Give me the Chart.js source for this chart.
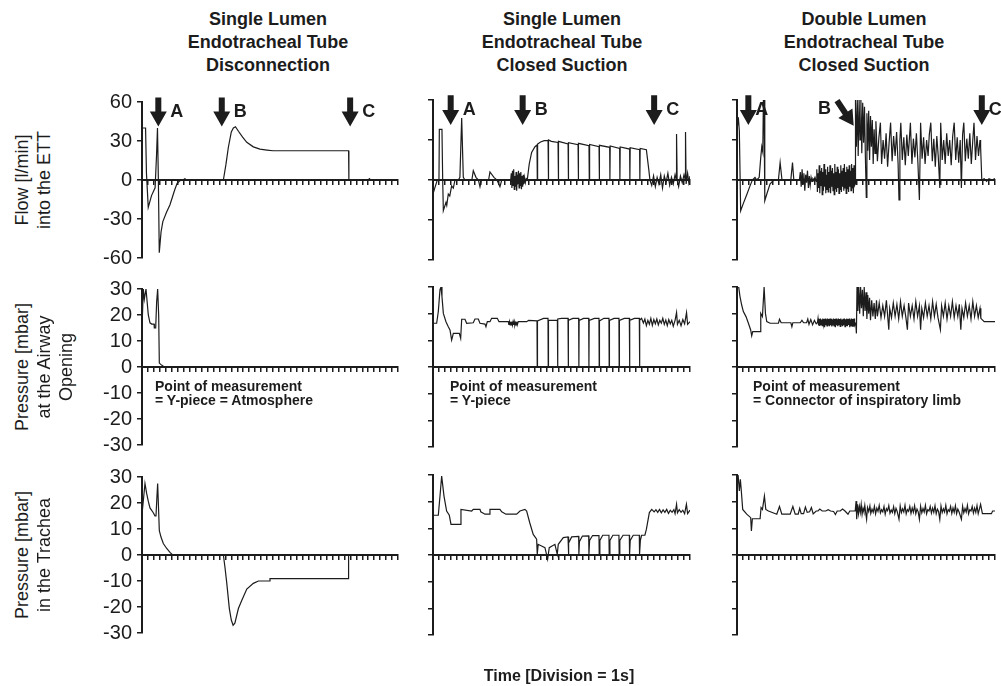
<!DOCTYPE html>
<html>
<head>
<meta charset="utf-8">
<script src="https://cdn.jsdelivr.net/npm/chart.js@4/dist/chart.umd.min.js"></script>
<style>
  body { margin: 0; background: #fff; width: 1001px; height: 686px; position: relative; overflow: hidden;
         font-family: "Liberation Sans", Arial, sans-serif; color: #1c1c1c; }
  canvas { position: absolute; }
  .title { position: absolute; width: 300px; text-align: center; font-weight: bold; font-size: 18px; line-height: 23px; }
  .ylab { position: absolute; white-space: nowrap; font-size: 18px; transform: translate(-50%, -50%) rotate(-90deg); }
  .note { position: absolute; white-space: nowrap; font-weight: bold; font-size: 14px; line-height: 14px; }
  .xlab { position: absolute; white-space: nowrap; font-weight: bold; font-size: 16px; transform: translate(-50%, -50%); }
</style>
</head>
<body>
<script>
// ---- text ----
const columnTitles = [
  ['Single Lumen', 'Endotracheal Tube', 'Disconnection'],
  ['Single Lumen', 'Endotracheal Tube', 'Closed Suction'],
  ['Double Lumen', 'Endotracheal Tube', 'Closed Suction']
];
const rowTitles = [
  ['Flow [l/min]', 'into the ETT'],
  ['Pressure [mbar]', 'at the Airway', 'Opening'],
  ['Pressure [mbar]', 'in the Trachea']
];
const measurementNotes = [
  ['Point of measurement', '= Y-piece = Atmosphere'],
  ['Point of measurement', '= Y-piece'],
  ['Point of measurement', '= Connector of inspiratory limb']
];
const timeLabel = 'Time [Division = 1s]';

// ---- axes ----
const timeSpan = [0, 43];          // seconds, one tick per second
const flowRange = [-60, 60];
const flowStep = 30;
const pressureRange = [-30, 30];
const pressureStep = 10;

// ---- events: [label, t start, value start, t tip, value tip] ----
const eventsDisc = [['A', 2.74, 63.5, 2.74, 41.2], ['B', 13.4, 63.5, 13.4, 41.2], ['C', 34.96, 63.5, 34.96, 41.2]];
const eventsSL = [['A', 2.96, 63.5, 2.96, 41.2], ['B', 15.0, 63.5, 15.0, 41.2], ['C', 37.0, 63.5, 37.0, 41.2]];
const eventsDL = [['A', 1.89, 63.5, 1.89, 41.2], ['B', 16.67, 59.5, 19.45, 40.7], ['C', 40.8, 63.5, 40.8, 41.2]];

// ---- traces: [t (s), value] ----
const flowDisc = [[0,0],[0.05,40],[0.6,40],[0.75,5],[1.05,-21],[1.6,-12],[2.2,-6],[2.45,20],[2.6,40],[2.75,0],[2.9,-56],
  [3.2,-40],[3.5,-32],[4.1,-25],[4.7,-19],[5.5,-7.5],[5.9,-2.5],[6.4,-0.5],[6.9,0],[7.2,1],[7.5,0],[13.67,0],[14.1,12],
  [14.5,25],[15.0,37],[15.35,40],[15.7,41],[16.2,37.5],[16.9,33],[17.6,29],[18.7,25.5],[19.8,23.7],[21,23],[22,22.5],
  [34.7,22.5],[34.75,0],[38.0,0],[38.2,1],[38.4,0],[43,0]];

const pawDisc = [[0,15],[0.11,15],[0.22,30],[0.39,26],[0.67,30],[1.06,20],[1.34,17],[1.63,16.5],[2.02,16.5],[2.07,15],
  [2.3,15],[2.46,25],[2.63,30],[2.8,20],[2.91,1.5],[3.14,1],[3.47,0.5],[3.7,0],[43,0]];

const ptrDisc = [[0,15.6],[0.11,15.6],[0.5,27.5],[0.78,23.7],[1.06,20.6],[1.34,18.1],[1.9,16.25],[2.18,15],[2.35,15],
  [2.5,22],[2.63,27.5],[2.91,9.4],[3.19,6.9],[3.58,4.4],[4.15,2.5],[4.7,1],[5.15,0],[13.67,0],[13.95,-5],[14.23,-10.6],
  [14.67,-20.6],[15.0,-25],[15.3,-27],[15.6,-26.2],[16.19,-20.6],[16.75,-17.5],[17.6,-13.1],[18.7,-10.9],[19.55,-10],
  [21.5,-10],[21.5,-9.1],[34.67,-9.1],[34.7,0],[43,0]];

const flowSL = [[0,-10.5],[0.33,-5.5],[0.72,0],[1.0,0],[1.06,38],[1.5,38],[1.62,0],[1.73,-23],[2.17,-16.8],[2.3,-19],
  [2.56,-10.5],[2.8,-12],[3.12,-4.4],[3.4,-6],[3.68,0],[4.24,0],[4.5,2],[4.8,46.5],[5.07,2],[5.35,0],[6.5,0],[6.74,7],
  [7.19,2],[7.6,0],[7.86,-5],[8.1,0],[9.3,0],[9.53,6],[10.2,2],[10.7,0],[11.2,-5],[11.5,0],[13.0,0],
  [13.1,5],[13.2,-6],[13.3,7],[13.4,-4],[13.5,8],[13.6,-7],[13.7,3],[13.8,-5],[13.9,6],[14.0,-8],[14.1,4],[14.2,-3],
  [14.3,7],[14.4,-6],[14.5,5],[14.6,-4],[14.7,6],[14.8,-7],[14.9,3],[15.0,-5],[15.1,4],[15.2,-3],[15.3,2],[15.45,-2],
  [15.6,1],[15.77,0],[16.1,12],[16.5,20.7],[17.06,25],[17.4,26.2],[17.45,0],[17.5,27],[18.0,28.5],[18.6,29.5],
  [19.25,29.5],[19.3,0],[19.35,30],[19.8,29],[20.92,28.2],[20.97,0],[21.02,29],[22.6,27],[22.64,0],[22.69,28],
  [24.27,26.5],[24.31,0],[24.36,27.5],[26.1,25.7],[26.15,0],[26.2,26.7],[27.78,25],[27.82,0],[27.87,26],[29.56,24.5],
  [29.6,0],[29.65,25.5],[31.23,23.7],[31.27,0],[31.32,24.8],[32.9,23.2],[32.94,0],[32.99,24.2],[34.57,22.7],[34.61,0],
  [34.66,23.7],[35.7,22.7],[36.1,8],[36.3,0],[36.6,-4],[36.9,3],[37.2,-5],[37.5,2],[37.8,-3],[38.1,4],[38.4,-6],
  [38.7,3],[39,-2],[39.3,5],[39.6,-4],[39.9,2],[40.2,-3],[40.5,4],[40.7,0],[40.75,34.5],[40.85,0],[41.1,-5],[41.4,3],
  [41.7,-2],[42,4],[42.2,0],[42.25,36],[42.35,-3],[42.6,5],[42.8,-2],[43,3]];

const pawSL = [[0,16.4],[0.61,16.4],[0.89,20.8],[1.17,29],[1.34,30],[1.5,26.4],[1.73,20.1],[2.17,17],[2.56,15.1],
  [2.84,13.9],[3.12,10.1],[3.4,12.6],[4.4,12.6],[4.63,10.75],[4.8,17.9],[5.35,17.9],[5.63,16.4],[6.74,16.6],[7.02,18],
  [7.58,18],[7.86,16.4],[8.7,16.1],[8.86,15.1],[9.09,17],[9.53,17],[9.81,18.25],[10.76,18.25],[11.04,17],[12.6,17],
  [12.7,15.75],[12.8,17],[12.9,15.75],[13.0,17],[13.1,15.75],[13.2,17],[13.3,15.75],[13.4,17],[13.5,15.75],[13.6,17],
  [13.7,15.75],[13.8,16.6],[13.9,15.75],[14.0,17],[14.1,15.75],[14.27,17],[15.67,17],[16.0,17.5],[17.4,17.3],
  [17.44,0],[17.48,17.3],[18.5,18.2],[19.24,18.2],[19.28,0],[19.32,17.5],[20.0,17.5],[20.81,17.5],[20.85,0],[20.89,18],
  [21.5,18.2],[22.59,18.2],[22.63,0],[22.67,17.5],[23.4,18.2],[24.37,18.2],[24.41,0],[24.45,17.5],[25.2,18.25],
  [26.05,18.25],[26.09,0],[26.13,17.5],[27,18.25],[27.77,18.25],[27.81,0],[27.85,17.3],[28.6,18.25],[29.44,18.25],
  [29.48,0],[29.52,17.5],[30.3,18.25],[31.11,18.25],[31.15,0],[31.19,17.5],[32,18.25],[32.85,18.25],[32.89,0],
  [32.93,17.5],[33.7,18.25],[34.52,18.25],[34.56,0],[34.6,17.5],[34.9,18.25],[35.2,16.5],[35.45,18],[35.7,15.5],
  [35.95,17.5],[36.2,16],[36.45,18.25],[36.7,15.6],[36.95,17.8],[37.2,16.2],[37.45,18],[37.7,15.8],[37.95,17.5],
  [38.2,16.4],[38.45,18.25],[38.7,16],[38.95,17.6],[39.2,15.5],[39.45,17.8],[39.7,16.2],[39.95,17.5],[40.2,15.3],
  [40.5,17.5],[40.75,20.4],[40.9,16],[41.2,17.5],[41.5,15.5],[41.8,17.8],[42.1,16.2],[42.42,20.4],[42.6,16],[43,17]];

const ptrSL = [[0,14.9],[0.89,14.9],[1.17,22.1],[1.45,29.6],[1.84,22.1],[2.28,16.5],[2.73,14.9],[3.01,11.5],[4.52,11.5],
  [4.68,17.1],[6.47,16.5],[6.74,17.1],[7.86,17.1],[7.99,16.2],[8.7,15.3],[9.4,15.3],[9.53,17.1],[11.2,17.1],[11.5,16.2],
  [12.2,15.3],[14.0,15.3],[14.55,16.5],[15.38,17.1],[15.67,16.5],[16.2,12],[16.77,7.7],[17.34,5.9],[17.44,0.25],
  [17.6,4],[18.73,2.75],[19.18,-1.6],[19.45,2.75],[20.4,4],[20.79,0.25],[20.96,4],[21.8,6.5],[22.59,6.8],[22.63,0.25],
  [22.75,4.5],[23.2,6.8],[24.37,7],[24.41,0.25],[24.5,5],[25.0,7.1],[26.05,7.2],[26.09,0.25],[26.2,5.5],[26.7,7.3],
  [27.77,7.3],[27.81,0.25],[27.92,5.5],[28.4,7.4],[29.44,7.4],[29.48,0.25],[29.6,5.5],[30.1,7.4],[31.11,7.4],
  [31.15,0.25],[31.26,5.5],[31.8,7.4],[32.85,7.4],[32.89,0.25],[33,5.5],[33.5,7.4],[34.52,7.4],[34.56,0.25],[34.7,5.5],
  [34.9,7.4],[35.45,7.4],[35.7,9.6],[36.2,15.9],[36.6,17.1],[37,16.2],[37.3,17],[37.6,16],[37.9,17.1],[38.2,15.8],
  [38.5,16.9],[38.8,16],[39.1,17.1],[39.4,15.6],[39.7,16.8],[40,16],[40.3,17],[40.5,15.5],[40.75,19],[40.9,15.8],
  [41.2,17],[41.5,16],[41.8,16.8],[42.1,15.5],[42.4,19],[42.6,15.5],[43,16.8]];

const flowDL = [[0,37],[0.05,37],[0.22,47],[0.39,37],[0.61,-23],[1.06,-17.5],[1.62,-11],[2.17,-4.4],[2.56,0],[3.0,2],
  [3.3,0],[3.7,2],[3.96,17],[4.13,25],[4.3,21],[4.4,60],[4.5,60],[4.63,-15.5],[4.97,-10.5],[5.5,-3],[6.1,0],[6.9,0],
  [7.19,13],[7.5,0],[8.97,0],[9.25,13],[9.47,0],[10.4,0],[10.55,6],[10.7,-5],[10.85,8],[11,-3],[11.15,5],[11.3,-8],
  [11.45,4],[11.6,-2],[11.75,7],[11.9,-6],[12.05,3],[12.2,-4],[12.35,2],[12.5,-1],[12.65,1],[12.8,0],[13.0,2],[13.2,-1],
  [13.3,8],[13.4,-9],[13.5,5],[13.6,-6],[13.7,11],[13.8,-10],[13.9,7],[14.0,-4],[14.1,9],[14.2,-11],[14.3,6],[14.4,-8],
  [14.5,12],[14.6,-5],[14.7,8],[14.8,-10],[14.9,4],[15.0,-7],[15.1,10],[15.2,-9],[15.3,6],[15.4,-6],[15.5,11],
  [15.6,-10],[15.7,7],[15.8,-5],[15.9,9],[16.0,-8],[16.1,5],[16.2,-11],[16.3,12],[16.4,-7],[16.5,6],[16.6,-9],[16.7,10],
  [16.8,-6],[16.9,8],[17.0,-10],[17.1,5],[17.2,-7],[17.3,11],[17.4,-9],[17.5,7],[17.6,-5],[17.7,9],[17.8,-8],[17.9,12],
  [18.0,-6],[18.1,6],[18.2,-10],[18.3,10],[18.4,-7],[18.5,8],[18.6,-9],[18.7,11],[18.8,-5],[18.9,7],[19.0,-8],[19.1,12],
  [19.2,-6],[19.3,9],[19.4,-10],[19.5,11],[19.6,-4],[19.7,-3],[19.75,60],[19.9,25],[20.05,60],[20.2,18],[20.35,60],
  [20.5,30],[20.65,60],[20.8,20],[20.95,58],[21.1,28],[21.25,55],[21.4,17],[21.55,-13],[21.65,50],[21.8,22],[21.95,52],
  [22.1,15],[22.25,48],[22.4,25],[22.55,45],[22.7,12],[22.85,38],[23,20],[23.15,44],[23.4,14],[23.65,32],[23.9,43],
  [24.1,12],[24.35,30],[24.6,16],[24.85,35],[25.1,10],[25.35,28],[25.6,43],[25.85,14],[26.1,33],[26.35,18],[26.6,36],
  [26.85,12],[27.0,-15],[27.15,30],[27.3,43],[27.55,15],[27.8,32],[28.05,11],[28.3,34],[28.55,18],[28.9,43],[29.15,12],
  [29.4,31],[29.65,17],[29.9,35],[30.15,13],[30.4,-15],[30.6,43],[30.85,16],[31.1,32],[31.35,12],[31.6,30],[31.85,18],
  [32.05,34],[32.3,43],[32.55,14],[32.8,31],[33.05,10],[33.3,33],[33.55,17],[33.8,-6],[33.95,43],[34.2,15],[34.45,30],
  [34.7,12],[34.95,35],[35.2,18],[35.45,30],[35.7,11],[35.95,33],[36.2,43],[36.45,15],[36.7,32],[36.95,13],[37.2,30],
  [37.4,-6],[37.6,34],[37.8,43],[38.05,14],[38.3,31],[38.55,16],[38.8,35],[39.05,12],[39.3,30],[39.5,43],[39.75,15],
  [40.0,33],[40.25,18],[40.5,30],[40.6,25],[40.8,0],[41.2,1],[41.6,-1],[42,1],[42.5,0],[43,1]];

const pawDL = [[0,30],[0.06,30],[0.28,30],[0.5,26.4],[0.78,23.25],[1.06,20.8],[1.5,18.9],[1.9,16.4],[2.28,13.9],
  [2.45,11.7],[2.62,13.3],[3.85,13.3],[3.96,20.1],[4.24,18.9],[4.52,30],[4.74,20.1],[4.96,17],[5.52,16.4],[6.91,16.4],
  [7.08,17.9],[7.36,16.6],[8.98,16.6],[9.15,15.1],[9.31,16.6],[10.54,16.6],[10.82,17.5],[11.1,16.6],[11.6,16.6],
  [11.8,18],[12.0,16],[12.3,17.8],[12.6,15.8],[12.9,17.5],[13.2,16.2],[13.4,16.6],[13.5,18.2],[13.6,15.6],[13.7,18],
  [13.8,15.4],[13.9,18.2],[14.0,15.9],[14.1,17.8],[14.2,15.5],[14.3,18.2],[14.4,16],[14.5,18],[14.6,14.9],[14.7,18.2],
  [14.8,15.7],[14.9,17.9],[15.0,15.4],[15.1,18.2],[15.2,15.8],[15.3,18],[15.4,15.3],[15.5,18.2],[15.6,15.7],
  [15.7,18.1],[15.8,15.2],[15.9,17.8],[16.0,15.8],[16.1,18.2],[16.2,15.4],[16.3,18],[16.4,14.9],[16.5,18.2],[16.6,15.7],
  [16.7,17.9],[16.8,15.3],[16.9,18.2],[17.0,15.9],[17.1,18],[17.2,15.2],[17.3,18.2],[17.4,15.6],[17.5,17.8],[17.6,15.3],
  [17.7,18.1],[17.8,15.7],[17.9,18.2],[18.0,15.1],[18.1,17.9],[18.2,15.6],[18.3,18.2],[18.4,15.3],[18.5,18],[18.6,15.8],
  [18.7,18.2],[18.8,14.9],[18.9,17.8],[19.0,15.5],[19.1,18.2],[19.2,15.3],[19.3,18],[19.4,15.1],[19.5,18.2],
  [19.6,15.6],[19.8,16.4],[19.9,12.6],[20.0,30],[20.15,21],[20.3,30],[20.45,20],[20.6,30],[20.75,22],[20.9,29],
  [21.05,19],[21.2,30],[21.35,21],[21.5,28],[21.65,18],[21.8,27],[21.95,20],[22.1,26],[22.25,17.5],[22.45,25],
  [22.65,19],[22.85,24],[23.05,18],[23.25,25],[23.4,19],[23.7,24],[24.0,18.5],[24.3,23],[24.6,19],[24.9,25],[25.15,18],
  [25.3,14],[25.45,22],[25.75,18.5],[26.05,24],[26.35,19],[26.65,23.5],[26.95,18],[27.25,24.5],[27.55,19],[27.85,23],
  [28.15,18.5],[28.4,14],[28.6,24],[28.9,19],[29.2,23],[29.5,18],[29.8,24.5],[30.1,19],[30.4,23],[30.6,14],[30.8,22],
  [31.1,18.5],[31.4,24],[31.7,19],[32.0,23],[32.3,18],[32.6,24.5],[32.9,19],[33.2,23.5],[33.5,18.5],[33.9,14],[34.1,23],
  [34.4,19],[34.7,24],[35.0,18],[35.3,23],[35.6,19],[35.9,24.5],[36.2,18.5],[36.5,23],[36.8,19],[37.05,23.5],[37.3,14],
  [37.5,22],[37.8,18.5],[38.1,24],[38.4,19],[38.7,23],[39.0,18],[39.3,24.5],[39.6,19],[39.9,23],[40.2,18.5],[40.5,22],
  [40.64,18.25],[41.2,17],[43,17]];

const ptrDL = [[0,25.9],[0.06,25.9],[0.22,29],[0.39,24],[0.56,28.4],[0.72,24],[0.95,17.1],[1.62,15.3],[2.28,14],[2.4,9],
  [2.56,13.6],[3.85,13.6],[4.01,17.8],[4.24,17.1],[4.57,22.1],[4.8,17.1],[5.24,16.5],[6.63,15.3],[7.08,18.2],[7.47,15.3],
  [8.86,15.3],[9.31,18.2],[9.7,15.3],[10.2,15.3],[10.45,17.5],[10.7,15.5],[11.1,15.5],[11.4,18],[11.7,16],[12.1,16.2],
  [12.4,17.8],[12.7,15.4],[13.2,16.5],[13.5,16.5],[13.8,17.2],[14.2,16.5],[14.8,16.5],[15.2,17],[15.6,16.5],[16.1,16.3],
  [16.4,15.2],[16.7,16.5],[17.2,16.5],[17.6,17.2],[18.0,16.5],[18.5,15.3],[18.8,16.5],[19.4,16.5],[19.7,16.5],
  [19.85,20.2],[19.95,13.4],[20.1,19],[20.25,15.5],[20.4,18.2],[20.55,16],[20.7,19],[20.85,15.3],[21.0,17.5],
  [21.15,16.2],[21.3,18.6],[21.45,15.8],[21.6,13.4],[21.75,17.8],[21.95,16.3],[22.15,18.4],[22.3,15.6],[22.5,17.2],
  [22.7,16],[22.9,18.3],[23.1,15.4],[23.3,17.6],[23.5,16.4],[23.7,18.6],[23.9,15.8],[24.1,17],[24.3,16.2],[24.5,18.2],
  [24.7,15.3],[24.9,17.4],[25.1,16.6],[25.3,18.5],[25.5,15.7],[25.7,16.9],[25.9,16],[26.1,18.1],[26.3,15.5],[26.5,17.5],
  [26.7,16.3],[27.0,13.4],[27.2,18.4],[27.4,15.9],[27.6,17.3],[27.8,16.1],[28.0,18.6],[28.2,15.4],[28.4,17],[28.6,16.4],
  [28.8,18.2],[29.0,15.6],[29.2,17.6],[29.4,16],[29.6,18.5],[29.8,15.5],[30.0,17.2],[30.2,16.2],[30.4,13.4],[30.6,18.3],
  [30.8,15.8],[31.0,17.4],[31.2,16.1],[31.4,18.6],[31.6,15.4],[31.8,17],[32.0,16.5],[32.2,18.2],[32.4,15.7],[32.6,17.6],
  [32.8,16],[33.0,18.5],[33.2,15.5],[33.4,17.2],[33.6,16.3],[33.8,13.4],[34.0,18.4],[34.2,15.9],[34.4,17.3],[34.6,16.1],
  [34.8,18.6],[35.0,15.4],[35.2,17],[35.4,16.4],[35.6,18.2],[35.8,15.6],[36.0,17.6],[36.2,16],[36.4,18.5],[36.6,15.5],
  [36.8,17.2],[37.0,16.2],[37.4,13.4],[37.6,18.3],[37.8,15.8],[38.0,17.4],[38.2,16.1],[38.4,18.6],[38.6,15.4],[38.8,17],
  [39.0,16.5],[39.2,18.2],[39.4,15.7],[39.6,17.6],[39.8,16],[40.0,18.5],[40.2,15.5],[40.4,17.2],[40.6,19],[40.9,15.5],
  [42.4,15.5],[42.6,16.5],[43,16.5]];

// ---- layout (pixels) ----
const colLeft = [142, 433, 737];
const colRight = [398, 690, 995];
const rowTop = [100, 287, 475];
const rowBottom = [260, 447, 635];
const YW = 50, PT = 15, PB = 15, PR = 15;
const ink = '#1c1c1c';
const fontFamily = '"Liberation Sans", Arial, sans-serif';

function arrowPluginFor(events, labelDx) {
  return {
    id: 'eventArrows',
    afterDraw(chart) {
      const ctx = chart.ctx, xs = chart.scales.x, ys = chart.scales.y;
      ctx.save();
      ctx.fillStyle = ink;
      events.forEach(ev => {
        const [label, t0, v0, t1, v1] = ev;
        const x0 = xs.getPixelForValue(t0), y0 = ys.getPixelForValue(v0);
        const x1 = xs.getPixelForValue(t1), y1 = ys.getPixelForValue(v1);
        const len = Math.hypot(x1 - x0, y1 - y0);
        const ux = (x1 - x0) / len, uy = (y1 - y0) / len;
        const nx = -uy, ny = ux;
        const head = 15, hw = 8.5, sw = 3;
        const bx = x1 - ux * head, by = y1 - uy * head;
        ctx.beginPath();
        ctx.moveTo(x0 + nx * sw, y0 + ny * sw);
        ctx.lineTo(bx + nx * sw, by + ny * sw);
        ctx.lineTo(bx + nx * hw, by + ny * hw);
        ctx.lineTo(x1, y1);
        ctx.lineTo(bx - nx * hw, by - ny * hw);
        ctx.lineTo(bx - nx * sw, by - ny * sw);
        ctx.lineTo(x0 - nx * sw, y0 - ny * sw);
        ctx.closePath();
        ctx.fill();
        ctx.font = 'bold 18px ' + fontFamily;
        ctx.textBaseline = 'middle';
        if (t0 === t1) {
          ctx.textAlign = 'left';
          ctx.fillText(label, x1 + labelDx, (y0 + y1) / 2);
        } else {
          ctx.textAlign = 'right';
          ctx.fillText(label, x0 - 6, y0 + 8);
        }
      });
      ctx.restore();
    }
  };
}

function makePanel(r, c, series, events, labelDx) {
  const L = colLeft[c], R = colRight[c], T = rowTop[r], B = rowBottom[r];
  const W = R - L + YW + PR, H = B - T + PT + PB;
  const cv = document.createElement('canvas');
  cv.width = W; cv.height = H;
  cv.style.left = (L - YW) + 'px';
  cv.style.top = (T - PT) + 'px';
  cv.style.width = W + 'px';
  cv.style.height = H + 'px';
  document.body.appendChild(cv);
  const range = r === 0 ? flowRange : pressureRange;
  const step = r === 0 ? flowStep : pressureStep;
  new Chart(cv, {
    type: 'line',
    data: {
      datasets: [{
        data: series.map(p => ({ x: p[0], y: p[1] })),
        borderColor: ink,
        borderWidth: 1.2,
        pointRadius: 0,
        tension: 0,
        fill: false
      }]
    },
    options: {
      responsive: false,
      animation: false,
      layout: { padding: { left: 0, top: PT, right: PR, bottom: PB } },
      plugins: { legend: { display: false }, tooltip: { enabled: false } },
      scales: {
        x: {
          type: 'linear', min: timeSpan[0], max: timeSpan[1], position: { y: 0 },
          ticks: { display: false, stepSize: 1, autoSkip: false, maxTicksLimit: 100 },
          grid: { drawOnChartArea: false, drawTicks: true, tickLength: 4, color: ink, lineWidth: 1.5 },
          border: { color: ink, width: 2 },
          afterFit: s => { s.height = 0; }
        },
        y: {
          min: range[0], max: range[1],
          ticks: { stepSize: step, display: c === 0, autoSkip: false, color: ink, padding: 5,
                   font: { family: fontFamily, size: 20 } },
          grid: { drawOnChartArea: false, drawTicks: true, tickLength: 5, color: ink, lineWidth: 1.5 },
          border: { color: ink, width: 2 },
          afterFit: s => { s.width = YW; }
        }
      }
    },
    plugins: events ? [arrowPluginFor(events, labelDx)] : []
  });
}

const traces = [
  [flowDisc, flowSL, flowDL],
  [pawDisc, pawSL, pawDL],
  [ptrDisc, ptrSL, ptrDL]
];
const eventSets = [eventsDisc, eventsSL, eventsDL];
const labelDxs = [12, 12, 7];

for (let r = 0; r < 3; r++) {
  for (let c = 0; c < 3; c++) {
    makePanel(r, c, traces[r][c], r === 0 ? eventSets[c] : null, labelDxs[c]);
  }
}

// ---- text overlays ----
const colCenters = [268, 562, 864];
columnTitles.forEach((lines, c) => {
  const d = document.createElement('div');
  d.className = 'title';
  d.style.left = (colCenters[c] - 150) + 'px';
  d.style.top = '8px';
  d.innerHTML = lines.join('<br>');
  document.body.appendChild(d);
});
const rowCenters = [180, 367, 555];
const ylabX = [22, 44, 66];
rowTitles.forEach((lines, r) => {
  lines.forEach((txt, i) => {
    const d = document.createElement('div');
    d.className = 'ylab';
    d.style.left = ylabX[i] + 'px';
    d.style.top = rowCenters[r] + 'px';
    d.textContent = txt;
    document.body.appendChild(d);
  });
});
const noteLeft = [155, 450, 753];
measurementNotes.forEach((lines, c) => {
  const d = document.createElement('div');
  d.className = 'note';
  d.style.left = noteLeft[c] + 'px';
  d.style.top = '379px';
  d.innerHTML = lines.join('<br>');
  document.body.appendChild(d);
});
const xl = document.createElement('div');
xl.className = 'xlab';
xl.style.left = '559px';
xl.style.top = '676px';
xl.textContent = timeLabel;
document.body.appendChild(xl);
</script>
</body>
</html>
